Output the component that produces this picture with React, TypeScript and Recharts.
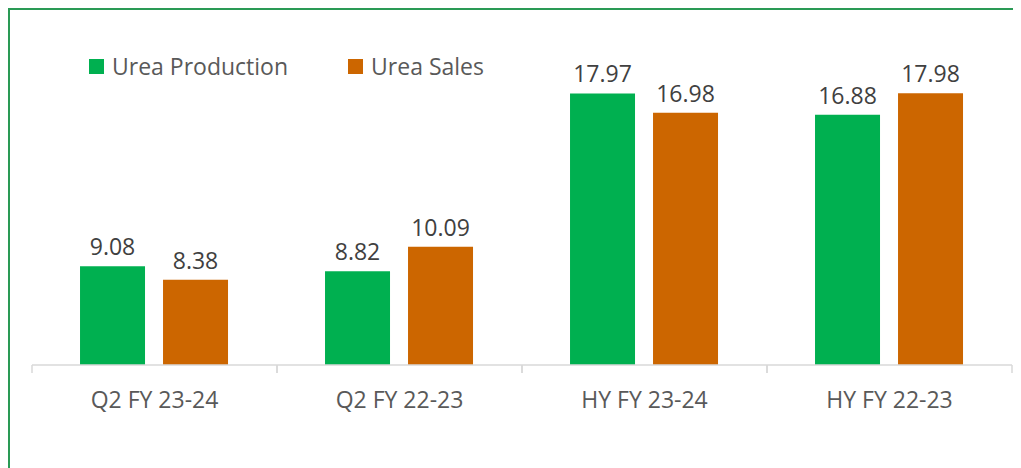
import { Bar, BarChart, LabelList, XAxis, YAxis } from "recharts";

const categories = ["Q2 FY 23-24", "Q2 FY 22-23", "HY FY 23-24", "HY FY 22-23"];
const ureaProduction = [9.08, 8.82, 17.97, 16.88];
const ureaSales = [8.38, 10.09, 16.98, 17.98];

const GREEN = "#00B050";
const ORANGE = "#CC6600";
const FONT = "'Open Sans', 'Noto Sans', sans-serif";

const data = categories.map((name, i) => ({
  name,
  production: ureaProduction[i],
  sales: ureaSales[i],
}));

function CategoryTick(props: any) {
  const { x, y, payload } = props;
  const half = payload?.offset ?? 122.5;
  return (
    <g>
      <line x1={x - half} y1={y - 8} x2={x - half} y2={y} stroke="#d9d9d9" strokeWidth={1.5} />
      <line x1={x + half} y1={y - 8} x2={x + half} y2={y} stroke="#d9d9d9" strokeWidth={1.5} />
      <text
        x={x}
        y={y + 29}
        textAnchor="middle"
        dominantBaseline="middle"
        fill="#595959"
        fontSize={23}
        fontFamily={FONT}
      >
        {payload.value}
      </text>
    </g>
  );
}

function LegendBox() {
  const items = [
    { label: "Urea Production", color: GREEN },
    { label: "Urea Sales", color: ORANGE },
  ];
  return (
    <div
      style={{
        position: "absolute",
        top: 40,
        left: 79,
        display: "flex",
        gap: 60,
        fontFamily: FONT,
        fontSize: 23,
        color: "#595959",
      }}
    >
      {items.map((it) => (
        <div key={it.label} style={{ display: "flex", alignItems: "center" }}>
          <span style={{ width: 15, height: 15, background: it.color, marginRight: 8, display: "inline-block" }} />
          <span>{it.label}</span>
        </div>
      ))}
    </div>
  );
}

export default function App() {
  return (
    <div
      style={{
        position: "relative",
        width: 1013,
        height: 460,
        borderTop: "2px solid #2a9a55",
        borderLeft: "2px solid #2a9a55",
        boxSizing: "border-box",
        background: "#fff",
      }}
    >
      <BarChart
        width={1011}
        height={458}
        data={data}
        margin={{ top: 44, right: 9, left: 22, bottom: 63 }}
        barCategoryGap="19.6%"
        barGap={18}
      >
        <XAxis
          dataKey="name"
          height={40}
          axisLine={{ stroke: "#d9d9d9", strokeWidth: 1.5 }}
          tickLine={false}
          tick={<CategoryTick />}
          interval={0}
        />
        <YAxis hide domain={[4, 20]} allowDataOverflow />
        <Bar dataKey="production" fill={GREEN} isAnimationActive={false}>
          <LabelList
            dataKey="production"
            position="top"
            offset={11}
            fill="#404040"
            fontSize={23}
            fontFamily={FONT}
            formatter={(v: any) => Number(v).toFixed(2)}
          />
        </Bar>
        <Bar dataKey="sales" fill={ORANGE} isAnimationActive={false}>
          <LabelList
            dataKey="sales"
            position="top"
            offset={11}
            fill="#404040"
            fontSize={23}
            fontFamily={FONT}
            formatter={(v: any) => Number(v).toFixed(2)}
          />
        </Bar>
      </BarChart>
      <LegendBox />
    </div>
  );
}
